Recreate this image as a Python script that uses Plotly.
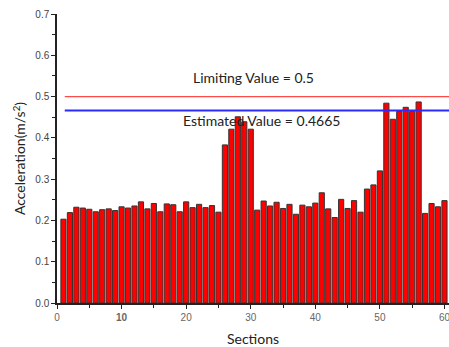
import plotly.graph_objects as go

# Section numbers and measured peak acceleration per section (m/s^2)
sections = list(range(1, 61))
acceleration = [
    0.203, 0.219, 0.232, 0.230, 0.227, 0.221, 0.226, 0.228, 0.224, 0.233,
    0.230, 0.235, 0.245, 0.228, 0.241, 0.221, 0.240, 0.238, 0.221, 0.245,
    0.231, 0.239, 0.231, 0.236, 0.220, 0.383, 0.421, 0.451, 0.439, 0.421,
    0.225, 0.247, 0.235, 0.244, 0.229, 0.239, 0.215, 0.237, 0.233, 0.242,
    0.267, 0.228, 0.207, 0.251, 0.229, 0.248, 0.220, 0.276, 0.286, 0.320,
    0.484, 0.445, 0.464, 0.474, 0.464, 0.487, 0.217, 0.241, 0.233, 0.248,
]
limiting_value = 0.5
estimated_value = 0.4665
x_tick_vals = [0, 10, 20, 30, 40, 50, 60]
x_tick_text = ["0", "<b>10</b>", "20", "30", "40", "50", "60"]
y_tick_vals = [0.0, 0.1, 0.2, 0.3, 0.4, 0.5, 0.6, 0.7]

fig = go.Figure()

fig.add_trace(go.Bar(
    x=sections, y=acceleration,
    marker=dict(color="#ff0000", line=dict(color="#333333", width=1)),
    width=0.8,
))

# Reference lines
fig.add_trace(go.Scatter(
    x=[1.2, 62], y=[limiting_value, limiting_value], mode="lines",
    line=dict(color="#ff4a4a", width=1.2),
))
fig.add_trace(go.Scatter(
    x=[1.2, 62], y=[estimated_value, estimated_value], mode="lines",
    line=dict(color="#2b2bff", width=2),
))

label_font = dict(family="Lato, Open Sans, sans-serif", size=14, color="#222")
fig.add_annotation(x=30.4, y=limiting_value, yshift=19, text=f"Limiting Value = {limiting_value}",
                   showarrow=False, font=label_font)
fig.add_annotation(x=31.6, y=estimated_value, yshift=-10, text=f"Estimated Value = {estimated_value}",
                   showarrow=False, font=label_font)

tick_font = dict(family="Liberation Sans, Arial, sans-serif", size=10, color="#666")

fig.update_layout(
    width=449, height=347,
    margin=dict(l=57, r=0, t=14, b=44),
    plot_bgcolor="white", paper_bgcolor="white",
    showlegend=False,
    bargap=0.2,
)
fig.update_xaxes(
    range=[0, 60.7], tickvals=x_tick_vals, ticktext=x_tick_text,
    ticklabeloverflow="allow",
    showline=True, linecolor="#222", linewidth=1.5, mirror=False,
    ticks="outside", ticklen=4, tickcolor="#222", tickwidth=1.3,
    minor=dict(dtick=5, ticks="outside", ticklen=3, tickcolor="#222"),
    showgrid=False, zeroline=False, tickfont=tick_font,
    title=dict(text="Sections", font=dict(family="Lato, Open Sans, sans-serif", size=14, color="#222"),
               standoff=14),
)
fig.update_yaxes(
    range=[0, 0.7], tickvals=y_tick_vals, tickformat=".1f",
    showline=True, linecolor="#222", linewidth=1.5,
    ticks="outside", ticklen=4, tickcolor="#222", tickwidth=1.3,
    minor=dict(dtick=0.05, ticks="outside", ticklen=3, tickcolor="#222"),
    showgrid=False, zeroline=False,
    tickfont=dict(family="Liberation Sans, Arial, sans-serif", size=10, color="#444"),
    title=dict(text="Acceleration(m/s<sup>2</sup>)",
               font=dict(family="Lato, Open Sans, sans-serif", size=14, color="#222"), standoff=6),
)

fig.write_html("out.html")
